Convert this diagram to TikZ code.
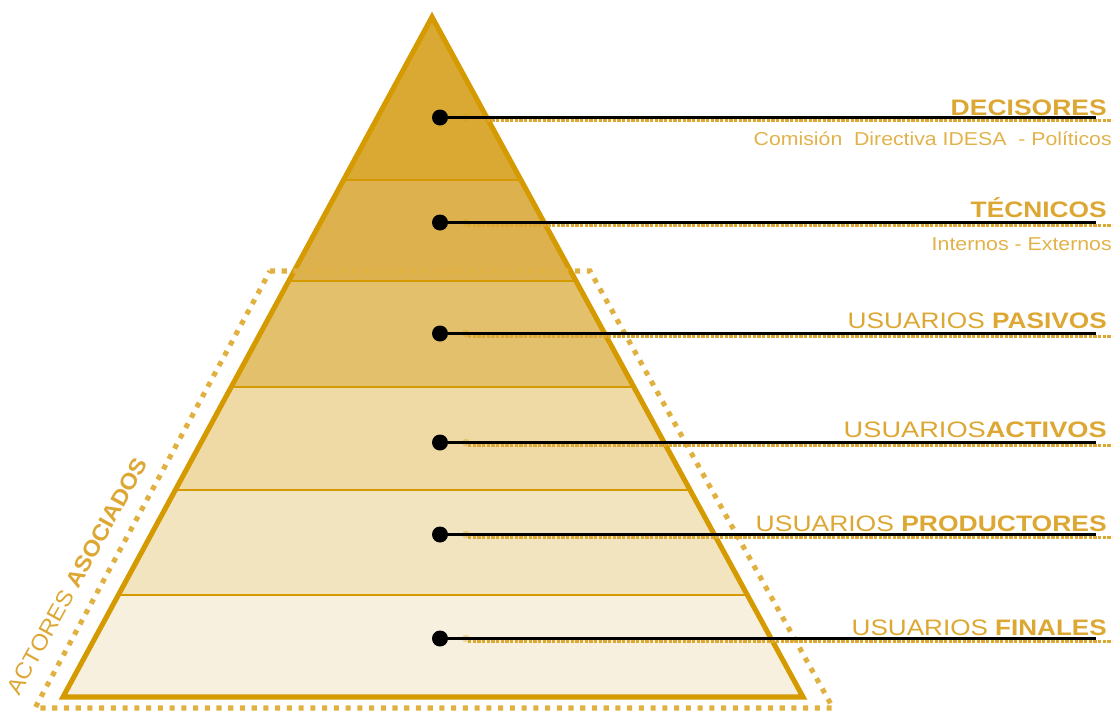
\documentclass[tikz,border=0pt]{standalone}
\usepackage{fontspec}
\usepackage{graphicx}
\setmainfont{Liberation Sans}
\usetikzlibrary{calc}

\definecolor{edgegold}{HTML}{D49A00}
\definecolor{dotgold}{HTML}{E0B040}
\definecolor{labgold}{HTML}{DDA733}
\definecolor{subgold}{HTML}{E2B24A}
\definecolor{layA}{HTML}{D9A933}
\definecolor{layB}{HTML}{DDB24E}
\definecolor{layC}{HTML}{E3C06C}
\definecolor{layD}{HTML}{EFD9A4}
\definecolor{layE}{HTML}{F3E4C0}
\definecolor{layF}{HTML}{F8F0DF}

% stretch a label to a given width, keeping its height
\newcommand{\wlab}[2]{\resizebox{#1}{\height}{#2}}

\tikzset{
  head/.style={anchor=base east, inner sep=0pt, text=labgold,
    font=\fontsize{16.8}{18}\selectfont},
  subhead/.style={anchor=base east, inner sep=0pt, text=subgold,
    font=\fontsize{14}{16}\selectfont},
  bullet/.style={circle, fill=black, inner sep=0pt, minimum size=12pt},
  halo/.style={circle, fill=edgegold, opacity=0.3, inner sep=0pt, minimum size=6pt},
  leader/.style={line width=2.2pt, black},
  underl/.style={line width=1.6pt, labgold, dash pattern=on 2.4pt off 1.1pt},
  divider/.style={line width=2.2pt, edgegold},
  rim/.style={line width=3.8pt, edgegold, line join=miter},
  group/.style={line width=3.8pt, dotgold, dash pattern=on 3.8pt off 5pt},
}

\begin{document}
\begin{tikzpicture}[x=0.75pt, y=-0.75pt]
\useasboundingbox (0,0) rectangle (1117,711);

% pyramid corners
\coordinate (apex) at (432,17);
\coordinate (bl) at (63,697);
\coordinate (br) at (803,697);

% layer boundaries along both edges
\foreach \n/\t in {1/0.2397, 2/0.3882, 3/0.5441, 4/0.6956, 5/0.8500} {
  \coordinate (l\n) at ($(apex)!\t!(bl)$);
  \coordinate (r\n) at ($(apex)!\t!(br)$);
}

% layer fills, top to bottom
\fill[layA] (apex) -- (r1) -- (l1) -- cycle;
\fill[layB] (l1) -- (r1) -- (r2) -- (l2) -- cycle;
\fill[layC] (l2) -- (r2) -- (r3) -- (l3) -- cycle;
\fill[layD] (l3) -- (r3) -- (r4) -- (l4) -- cycle;
\fill[layE] (l4) -- (r4) -- (r5) -- (l5) -- cycle;
\fill[layF] (l5) -- (r5) -- (br) -- (bl) -- cycle;

\foreach \n in {1,...,5} \draw[divider] (l\n) -- (r\n);
\draw[rim] (apex) -- (br) -- (bl) -- cycle;

% dotted frame around the associated actors
\coordinate (ftl) at (270,271);
\coordinate (ftr) at (590,271);
\coordinate (fbr) at (833,708);
\coordinate (fbl) at (35,708);
\draw[group] (ftl) -- (ftr) -- (fbr) -- (fbl) -- cycle;

\node[rotate=61, inner sep=0pt, text=labgold, font=\fontsize{16.8}{18}\selectfont] (actores)
  at (77,576) {\wlab{200pt}{ACTORES \textbf{ASOCIADOS}}};

% level markers and leader lines
\foreach \n/\y in {1/117.5, 2/222.5, 3/333.5, 4/442.5, 5/534.5, 6/638.5} {
  \node[halo] (h\n) at (466,\y) {};
  \coordinate (u\n) at (1112,\y+3);
  \coordinate (us\n) at (468,\y+3);
  \draw[underl] (us\n) -- (u\n);
  \node[bullet] (d\n) at (440,\y) {};
  \coordinate (e\n) at (1096,\y);
  \draw[leader] (d\n.center) -- (e\n);
}

% labels
\node[head] (t1) at (1107,115) {\wlab{117pt}{\textbf{DECISORES}}};
\node[subhead] (s1) at (1112,145) {\wlab{268.5pt}{Comisión\ \ Directiva IDESA\ \ - Políticos}};
\node[head] (t2) at (1107,217) {\wlab{102pt}{\textbf{TÉCNICOS}}};
\node[subhead] (s2) at (1112,250) {\wlab{135pt}{Internos - Externos}};
\node[head] (t3) at (1107,328) {\wlab{194.25pt}{USUARIOS \textbf{PASIVOS}}};
\node[head] (t4) at (1107,437) {\wlab{197.25pt}{USUARIOS\textbf{ACTIVOS}}};
\node[head] (t5) at (1107,531) {\wlab{263.25pt}{USUARIOS \textbf{PRODUCTORES}}};
\node[head] (t6) at (1107,635) {\wlab{191.25pt}{USUARIOS \textbf{FINALES}}};

\end{tikzpicture}
\end{document}
